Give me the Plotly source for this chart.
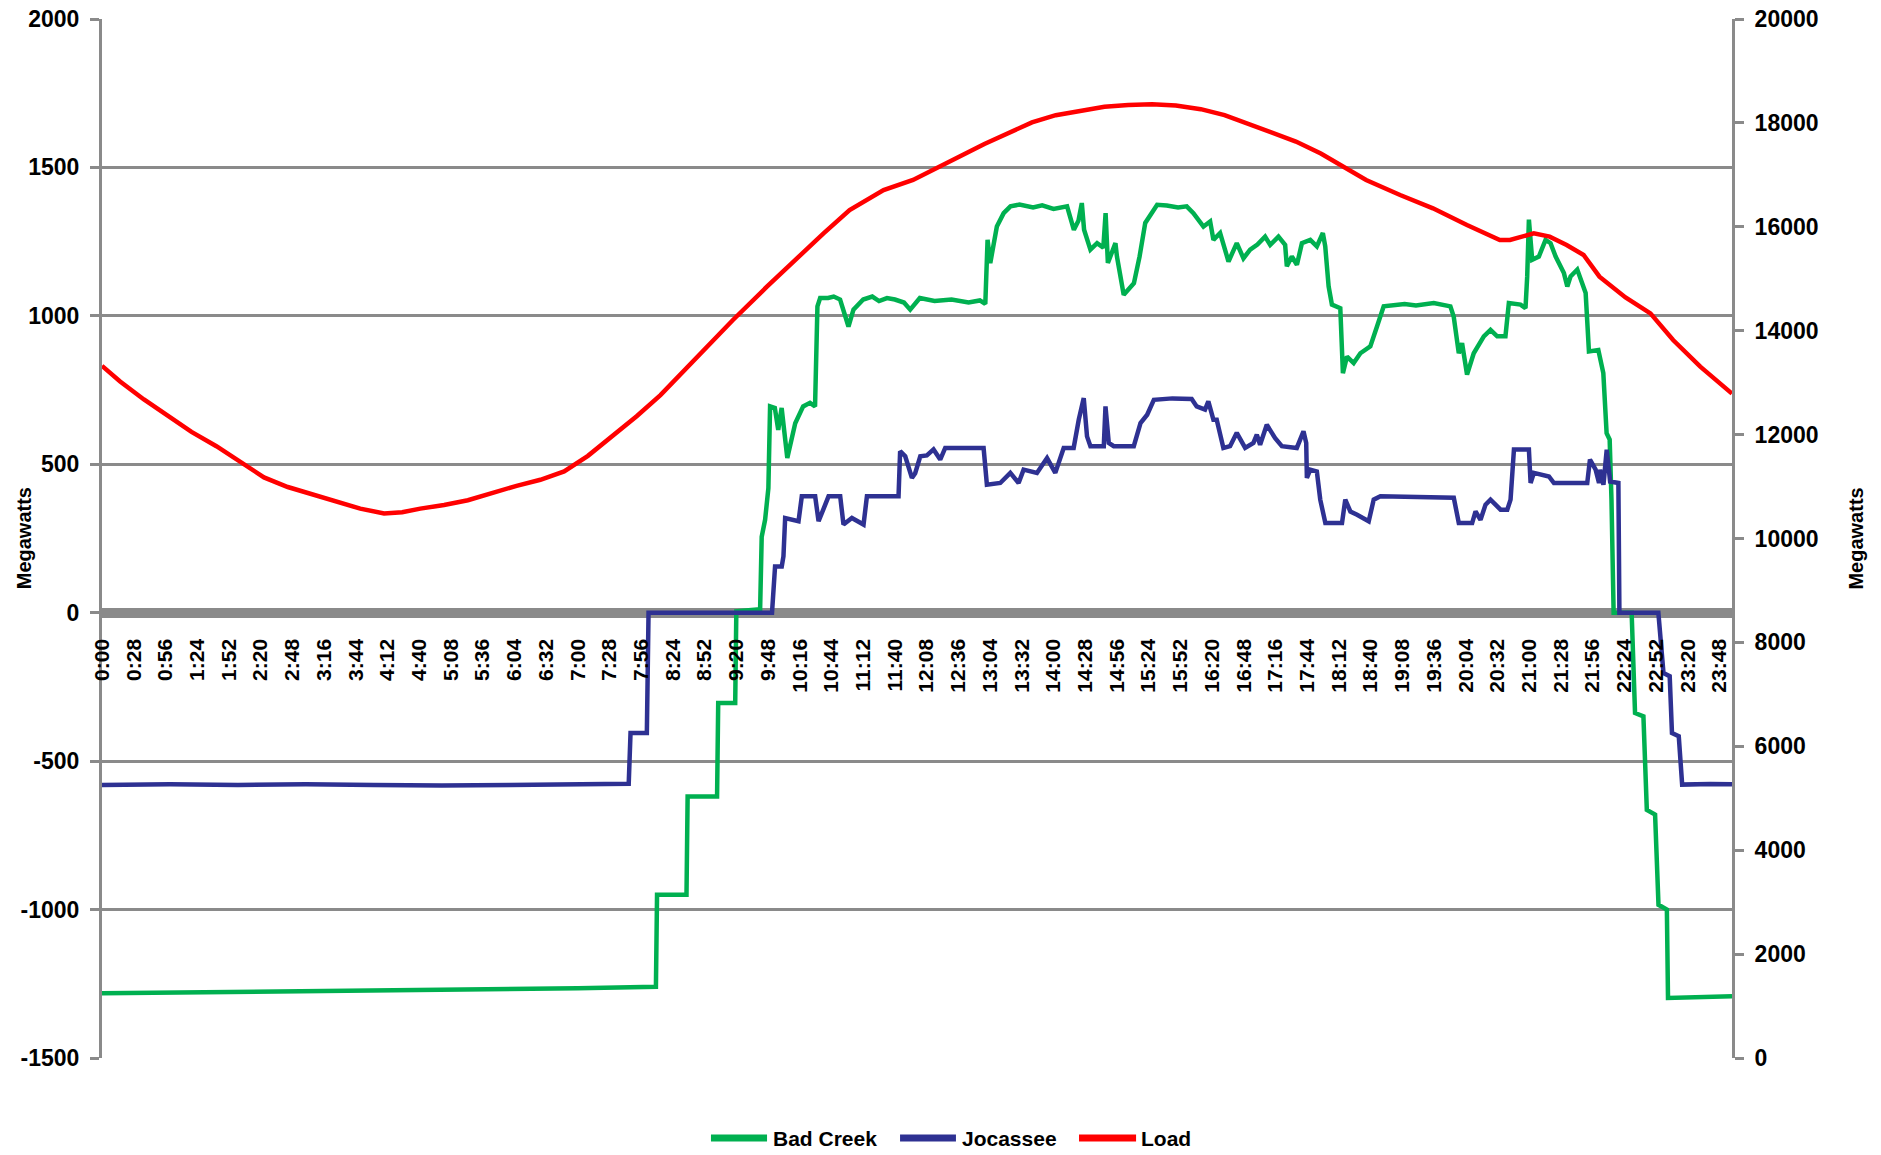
import plotly.graph_objects as go

# ---------------- data ----------------
tick_labels = ["0:00", "0:28", "0:56", "1:24", "1:52", "2:20", "2:48", "3:16", "3:44", "4:12",
               "4:40", "5:08", "5:36", "6:04", "6:32", "7:00", "7:28", "7:56", "8:24", "8:52",
               "9:20", "9:48", "10:16", "10:44", "11:12", "11:40", "12:08", "12:36", "13:04",
               "13:32", "14:00", "14:28", "14:56", "15:24", "15:52", "16:20", "16:48", "17:16",
               "17:44", "18:12", "18:40", "19:08", "19:36", "20:04", "20:32", "21:00", "21:28",
               "21:56", "22:24", "22:52", "23:20", "23:48"]
left_ticks = [-1500, -1000, -500, 0, 500, 1000, 1500, 2000]
left_tick_text = ["-1500", "-1000", "-500", "0", "500", "1000", "1500", "2000"]
right_ticks = [0, 2000, 4000, 6000, 8000, 10000, 12000, 14000, 16000, 18000, 20000]
series_names = ["Bad Creek", "Jocassee", "Load"]

# minutes after midnight / megawatts
bad_creek_min = [0, 60, 120, 180, 240, 300, 360, 420, 489, 490, 516, 517, 543, 544, 559, 560, 581,
                 582.4, 585.4, 588.3, 589.8, 594, 597, 600, 605, 612, 619, 625, 629.5, 631.6, 634,
                 641, 646, 651.6, 659, 663.4, 672, 680, 686, 693, 700, 708, 713.5, 722, 735, 750,
                 765, 775, 779.8, 781.8, 784.2, 790, 796, 802, 810, 822, 830, 840, 852, 858, 862,
                 865, 867, 872.6, 878.5, 884, 886, 888, 894.7, 896, 902, 911, 916, 921, 931.5,
                 940, 950, 957.6, 963.5, 972.4, 978.3, 981.2, 987.1, 994.5, 1001.8, 1007.7,
                 1013.6, 1020, 1026.8, 1031.3, 1038.6, 1044.5, 1046, 1050.4, 1054.9, 1059.3,
                 1066.7, 1072.5, 1077.8, 1079.9, 1082.9, 1085.8, 1093.2, 1095.5, 1099.1, 1105,
                 1110.9, 1119.7, 1125.6, 1131.5, 1150, 1160, 1175.7, 1190.4, 1193.3, 1197.8,
                 1200.7, 1205.1, 1211, 1219.9, 1225.8, 1231.7, 1239, 1242, 1252.3, 1256.7,
                 1258.2, 1259.7, 1262.6, 1268.5, 1274.4, 1278.8, 1283.3, 1290.6, 1293.6, 1296.5,
                 1302.4, 1306.8, 1309.8, 1312.7, 1321, 1325.4, 1328.3, 1331, 1332.6, 1334.5,
                 1350.4, 1353.4, 1360.8, 1363.8, 1371.1, 1374.1, 1381.5, 1382.5, 1410, 1439]
bad_creek_mw = [-1282, -1280, -1277, -1275, -1272, -1270, -1268, -1265, -1260, -950, -950, -619,
                -619, -304, -304, 5, 12,
                256, 313, 420, 695, 690, 616, 690, 521, 638, 695, 707, 695, 1032, 1060,
                1060, 1065, 1055, 964, 1021, 1055, 1065, 1050, 1060, 1055, 1045, 1021, 1060, 1050,
                1055, 1045, 1052, 1040, 1256, 1178, 1301, 1346, 1369, 1375, 1365, 1372, 1360,
                1369, 1290, 1320, 1380, 1290, 1223, 1245, 1230, 1346, 1178, 1245, 1200, 1071,
                1110, 1200, 1313, 1374,
                1372, 1365, 1369, 1346, 1301, 1318, 1256, 1279, 1183, 1245, 1194,
                1223, 1240, 1267, 1239, 1267, 1239, 1167, 1200, 1172, 1245,
                1256, 1234, 1279, 1234, 1099, 1038, 1026, 807, 863, 841,
                874, 897, 964, 1032, 1040, 1035, 1043, 1032, 998, 874,
                908, 802, 874, 931, 953, 931, 931, 1043, 1038, 1026,
                1133, 1324, 1189, 1200, 1256, 1245, 1200, 1144, 1099, 1133,
                1156, 1111, 1077, 880, 885, 807, 605, 583, 381, 0,
                0, -338, -349, -664, -680, -984, -1000, -1298, -1295, -1292]

jocassee_min = [0, 60, 120, 180, 240, 300, 360, 420, 465, 466.6, 481, 482.5, 591.5, 594.2,
                600.1, 601.6, 603.1, 614.9, 617.8, 629.6, 632.6, 637, 641.4, 651.7, 654.6, 662,
                672.3, 675.3, 703.2, 704.6, 709.1, 715, 717.9, 722.4, 728.2, 734.1, 740, 744.4,
                778.3, 781.2, 793, 801.9, 809.2, 813.6, 825.4, 834.3, 841.6, 849, 857.8, 862.3,
                866.7, 869.6, 872.6, 884.4, 885.9, 888.8, 893.2, 910.9, 916.8, 922.7, 928.6,
                945, 962, 966.4, 973.8, 976.7, 981.2, 984.1, 990, 995.9, 1001.8, 1009.2, 1016.5,
                1019.5, 1022.4, 1028.3, 1035.7, 1041.6, 1054.8, 1060.7, 1063.1, 1063.7, 1066.7,
                1072.5, 1075.5, 1080, 1094.7, 1097.6, 1102.1, 1108, 1118.3, 1122.7, 1128.6,
                1193.4, 1197.8, 1209.6, 1212.6, 1217, 1221.4, 1225.8, 1230.3, 1234.7, 1240.6,
                1243.5, 1246.5, 1259.7, 1261.2, 1264.1, 1277.4, 1281.8, 1311.2, 1313.6, 1318.6,
                1321.6, 1322.5, 1325.5, 1328.4, 1331.4, 1338.7, 1339.6, 1374, 1378.5, 1384,
                1386, 1392, 1395, 1420, 1439]
jocassee_mw = [-580, -578, -580, -578, -580, -582, -580, -578, -576, -405, -405, 0, 0, 156,
               156, 190, 319, 308, 392, 392, 308, 350, 392, 392, 297, 319,
               297, 392, 392, 544, 527, 454, 470, 527, 530, 550, 516, 555,
               555, 431, 437, 471, 437, 482, 471, 521, 471, 555, 555, 650,
               723, 594, 561, 561, 695, 572, 561, 561, 639, 667, 717,
               722, 720, 695, 684, 712, 650, 650, 555, 561, 606, 555, 572,
               600, 566, 633, 588, 561, 555, 611, 572, 454, 482,
               476, 381, 302, 302, 381, 341, 330, 308, 381, 392,
               387, 302, 302, 341, 313, 364, 381, 364, 347, 347,
               381, 550, 550, 437, 471, 459, 437, 437, 516, 482,
               437, 482, 431, 549, 442, 437, 0, 0, -203, -214,
               -405, -416, -579, -577, -578]

load_min = [0, 16, 37, 58, 79, 101, 122, 143, 164, 185, 207, 228, 249, 265, 281, 302, 323, 344,
            366, 387, 408, 429, 450, 472, 493, 528, 557, 587, 616, 637, 660, 690, 716, 736, 758,
            779, 800, 821, 842, 864, 885, 906, 927, 948, 970, 991, 1012, 1033, 1054, 1076, 1097,
            1116, 1146, 1175, 1205, 1234, 1243, 1252, 1264, 1278, 1293, 1308, 1322, 1345, 1367,
            1387, 1411, 1439]
load_mw = [13323, 13023, 12677, 12353, 12053, 11776, 11476, 11176, 10991, 10852, 10714, 10575,
           10483, 10506, 10575, 10645, 10737, 10875, 11014, 11130, 11291, 11591, 11961, 12353,
           12760, 13565, 14206, 14847, 15457, 15874, 16323, 16708, 16902, 17133, 17364, 17595,
           17802, 18010, 18149, 18241, 18310, 18345, 18357, 18333, 18264, 18149, 17987, 17826,
           17641, 17410, 17156, 16902, 16612, 16356, 16035, 15746, 15746, 15810, 15874, 15810,
           15650, 15457, 15040, 14640, 14334, 13821, 13308, 12789]

# ---------------- figure ----------------
GRID = "#8a8a8a"
FONT = "Liberation Sans, Arial, sans-serif"
COLORS = ["#00b050", "#2e3192", "#ff0000"]

tick_vals = [int(t.split(":")[0]) * 60 + int(t.split(":")[1]) for t in tick_labels]

fig = go.Figure()
fig.add_trace(go.Scatter(x=bad_creek_min, y=bad_creek_mw, name=series_names[0], mode="lines",
                         line=dict(color=COLORS[0], width=4.5)))
fig.add_trace(go.Scatter(x=jocassee_min, y=jocassee_mw, name=series_names[1], mode="lines",
                         line=dict(color=COLORS[1], width=4.5)))
fig.add_trace(go.Scatter(x=load_min, y=load_mw, name=series_names[2], mode="lines", yaxis="y2",
                         line=dict(color=COLORS[2], width=4.5)))

# legend drawn below the plot (line swatch + bold label), as in the reference
legend_y = -0.077
legend_line_x = [(0.3736, 0.408), (0.4896, 0.5239), (0.5994, 0.6344)]
legend_text_x = [0.4105, 0.5265, 0.6360]
shapes = []
annotations = []
for name, color, (x0, x1), tx in zip(series_names, COLORS, legend_line_x, legend_text_x):
    shapes.append(dict(type="line", xref="paper", yref="paper", x0=x0, x1=x1,
                       y0=legend_y, y1=legend_y, line=dict(color=color, width=7)))
    annotations.append(dict(text=name, xref="paper", yref="paper", x=tx, y=legend_y,
                            xanchor="left", yanchor="middle", showarrow=False,
                            font=dict(family=FONT, size=21, color="black", weight=700)))

annotations += [
    dict(text="Megawatts", xref="paper", yref="paper", x=-0.048, y=0.5, xanchor="center",
         yanchor="middle", showarrow=False, textangle=-90,
         font=dict(family=FONT, size=20, color="black", weight=700)),
    dict(text="Megawatts", xref="paper", yref="paper", x=1.0755, y=0.5, xanchor="center",
         yanchor="middle", showarrow=False, textangle=-90,
         font=dict(family=FONT, size=20, color="black", weight=700)),
]

fig.update_layout(
    width=1881, height=1155,
    margin=dict(l=102, r=149, t=19, b=97, autoexpand=False),
    plot_bgcolor="white", paper_bgcolor="white",
    showlegend=False,
    shapes=shapes,
    annotations=annotations,
    xaxis=dict(range=[0, 1439], tickmode="array", tickvals=tick_vals, ticktext=tick_labels,
               tickangle=-90, showgrid=False, zeroline=False, showline=False, ticks="",
               anchor="free", position=1500 / 3500, ticklabelstandoff=21, automargin=False,
               tickfont=dict(family=FONT, size=21, color="black", weight=700)),
    yaxis=dict(range=[-1500, 2000], tickmode="array", tickvals=left_ticks,
               ticktext=left_tick_text, showgrid=True, gridcolor=GRID,
               gridwidth=3, zeroline=True, zerolinecolor=GRID, zerolinewidth=10,
               showline=True, linecolor=GRID, linewidth=3, ticks="outside", ticklen=9,
               tickwidth=3, tickcolor=GRID, ticklabelstandoff=6, automargin=False,
               tickfont=dict(family=FONT, size=23, color="black", weight=700)),
    yaxis2=dict(range=[0, 20000], tickmode="array", tickvals=right_ticks,
                tickformat="d", overlaying="y", side="right",
                showgrid=False, zeroline=False, showline=True, linecolor=GRID, linewidth=3,
                ticks="outside", ticklen=9, tickwidth=3, tickcolor=GRID, ticklabelstandoff=6,
                automargin=False,
                tickfont=dict(family=FONT, size=23, color="black", weight=700)),
)

fig.write_html("out.html", config={"displayModeBar": False},
               post_script="document.body.style.margin='0';document.body.style.overflow='hidden';")
